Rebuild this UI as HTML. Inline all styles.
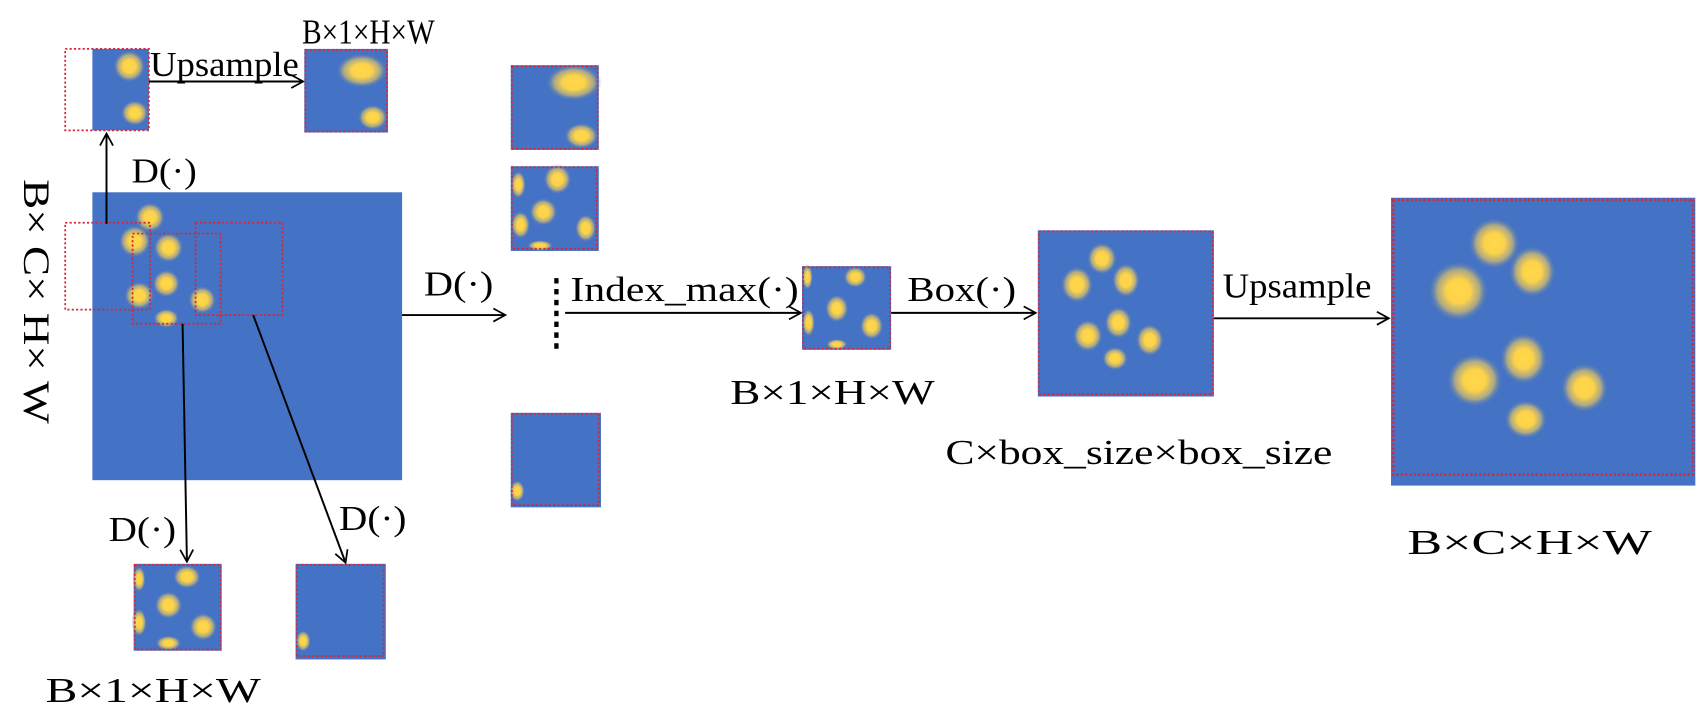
<!DOCTYPE html>
<html><head><meta charset="utf-8"><style>html,body{margin:0;padding:0;background:#fff}svg{display:block}</style></head>
<body>
<svg width="1704" height="717" viewBox="0 0 1568 660" preserveAspectRatio="none" xmlns="http://www.w3.org/2000/svg" font-family="Liberation Serif, serif" fill="#000">
<defs>
<radialGradient id="b"><stop offset="0" stop-color="#FFD84A"/><stop offset="0.4" stop-color="#FCD24A"/><stop offset="0.7" stop-color="#D9C06A" stop-opacity="0.7"/><stop offset="1" stop-color="#4472C4" stop-opacity="0"/></radialGradient>
<marker id="a" markerWidth="14" markerHeight="14" refX="12" refY="7" orient="auto" markerUnits="userSpaceOnUse"><path d="M1,1 L12,7 L1,13" fill="none" stroke="#000" stroke-width="1.6"/></marker>
</defs>
<g fill="#4472C4">
<rect x="85" y="177" width="285" height="265"/>
<rect x="85" y="45" width="52" height="75"/>
<rect x="280" y="45" width="77" height="77"/>
<rect x="470" y="60" width="81" height="78"/>
<rect x="470" y="153" width="81" height="78"/>
<rect x="470" y="380" width="83" height="87"/>
<rect x="123" y="519" width="81" height="80"/>
<rect x="272" y="519" width="83" height="88"/>
<rect x="738" y="245" width="82" height="77"/>
<rect x="955" y="212" width="162" height="153"/>
<rect x="1280" y="182" width="280" height="265"/>
</g>
<g fill="url(#b)">
<ellipse cx="119" cy="61" rx="15" ry="15"/><ellipse cx="124" cy="104" rx="13" ry="12"/>
<ellipse cx="333" cy="65" rx="24" ry="16"/><ellipse cx="343" cy="108" rx="14" ry="12"/>
<ellipse cx="528" cy="76" rx="26" ry="17"/><ellipse cx="535" cy="125" rx="16" ry="12"/>
<ellipse cx="477" cy="170" rx="7" ry="13"/><ellipse cx="513" cy="165" rx="13" ry="14"/><ellipse cx="500" cy="195" rx="13" ry="13"/><ellipse cx="479" cy="207" rx="9" ry="13"/><ellipse cx="539" cy="210" rx="10" ry="13"/><ellipse cx="497" cy="226" rx="12" ry="5"/>
<ellipse cx="476" cy="452" rx="7" ry="10"/>
<ellipse cx="138" cy="200" rx="14" ry="14"/><ellipse cx="124" cy="222" rx="15" ry="15"/><ellipse cx="155" cy="228" rx="14" ry="14"/><ellipse cx="153" cy="261" rx="13" ry="13"/><ellipse cx="128" cy="272" rx="14" ry="13"/><ellipse cx="186" cy="276" rx="13" ry="13"/><ellipse cx="153" cy="293" rx="12" ry="9"/>
<ellipse cx="128" cy="533" rx="6" ry="12"/><ellipse cx="172" cy="531" rx="13" ry="11"/><ellipse cx="155" cy="557" rx="13" ry="13"/><ellipse cx="128" cy="573" rx="7" ry="13"/><ellipse cx="187" cy="577" rx="13" ry="13"/><ellipse cx="155" cy="592" rx="12" ry="7"/>
<ellipse cx="279" cy="590" rx="7" ry="10"/>
<ellipse cx="743" cy="255" rx="5" ry="12"/><ellipse cx="787" cy="255" rx="11" ry="10"/><ellipse cx="770" cy="284" rx="11" ry="13"/><ellipse cx="744" cy="297" rx="6" ry="13"/><ellipse cx="802" cy="300" rx="11" ry="13"/><ellipse cx="770" cy="317" rx="10" ry="5"/>
<ellipse cx="1014" cy="238" rx="14" ry="15"/><ellipse cx="991" cy="262" rx="15" ry="17"/><ellipse cx="1036" cy="258" rx="13" ry="16"/><ellipse cx="1029" cy="297" rx="13" ry="15"/><ellipse cx="1001" cy="309" rx="14" ry="15"/><ellipse cx="1058" cy="313" rx="13" ry="15"/><ellipse cx="1026" cy="330" rx="12" ry="11"/>
<ellipse cx="1375" cy="224" rx="24" ry="24"/><ellipse cx="1342" cy="268" rx="28" ry="28"/><ellipse cx="1410" cy="250" rx="22" ry="24"/><ellipse cx="1402" cy="330" rx="22" ry="24"/><ellipse cx="1357" cy="350" rx="26" ry="25"/><ellipse cx="1458" cy="357" rx="22" ry="23"/><ellipse cx="1404" cy="386" rx="20" ry="18"/>
</g>
<g fill="none" stroke="#D2283C" stroke-width="1.6" stroke-dasharray="2 2">
<rect x="60" y="45" width="77" height="75"/>
<rect x="281" y="46" width="75" height="75"/>
<rect x="471" y="61" width="79" height="76"/>
<rect x="471" y="154" width="78" height="75"/>
<rect x="471" y="381" width="80" height="84"/>
<rect x="124" y="520" width="79" height="78"/>
<rect x="273" y="520" width="80" height="84"/>
<rect x="739" y="246" width="80" height="75"/>
<rect x="956" y="213" width="160" height="150"/>
<rect x="1282" y="184" width="276" height="253" stroke-width="2.4"/>
<rect x="60" y="205" width="78" height="80"/>
<rect x="122" y="215" width="81" height="83"/>
<rect x="180" y="205" width="80" height="85"/>
</g>
<g stroke="#000" stroke-width="1.8" fill="none" marker-end="url(#a)">
<line x1="137" y1="75" x2="279" y2="75"/>
<line x1="98" y1="206" x2="98" y2="123"/>
<line x1="168" y1="298" x2="172" y2="517"/>
<line x1="233" y1="290" x2="318" y2="518"/>
<line x1="370" y1="290" x2="465" y2="290"/>
<line x1="520" y1="288" x2="737" y2="288"/>
<line x1="820" y1="288" x2="953" y2="288"/>
<line x1="1117" y1="293" x2="1278" y2="293"/>
</g>
<line x1="512" y1="256" x2="512" y2="326" stroke="#000" stroke-width="4" stroke-dasharray="5 5"/>
<g font-size="32">
<text x="138" y="70" textLength="137" lengthAdjust="spacingAndGlyphs">Upsample</text>
<text x="278" y="40" textLength="122" lengthAdjust="spacingAndGlyphs">B×1×H×W</text>
<text x="121" y="168" textLength="60" lengthAdjust="spacingAndGlyphs">D(·)</text>
<text x="100" y="498" textLength="62" lengthAdjust="spacingAndGlyphs">D(·)</text>
<text x="312" y="488" textLength="62" lengthAdjust="spacingAndGlyphs">D(·)</text>
<text x="390" y="272" textLength="64" lengthAdjust="spacingAndGlyphs">D(·)</text>
<text x="42" y="646" textLength="198" lengthAdjust="spacingAndGlyphs">B×1×H×W</text>
<text x="525" y="277" textLength="210" lengthAdjust="spacingAndGlyphs">Index_max(·)</text>
<text x="835" y="277" textLength="100" lengthAdjust="spacingAndGlyphs">Box(·)</text>
<text x="672" y="372" textLength="188" lengthAdjust="spacingAndGlyphs">B×1×H×W</text>
<text x="870" y="427" textLength="356" lengthAdjust="spacingAndGlyphs">C×box_size×box_size</text>
<text x="1125" y="274" textLength="137" lengthAdjust="spacingAndGlyphs">Upsample</text>
<text x="1295" y="510" textLength="225" lengthAdjust="spacingAndGlyphs">B×C×H×W</text>
<text transform="translate(22,165) rotate(90)" font-size="34" textLength="225" lengthAdjust="spacingAndGlyphs">B× C× H× W</text>
</g>
</svg>
</body></html>
